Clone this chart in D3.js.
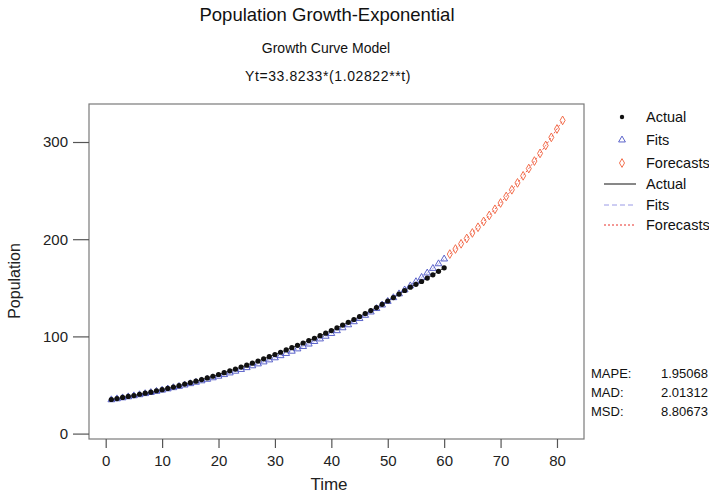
<!DOCTYPE html>
<html>
<head>
<meta charset="utf-8">
<script src="https://cdn.jsdelivr.net/npm/d3@7/dist/d3.min.js"></script>
<style>
  html, body { margin: 0; padding: 0; background: #fff; }
  svg { display: block; font-family: "Liberation Sans", Arial, sans-serif; }
</style>
</head>
<body>
<svg id="chart" width="709" height="493"></svg>
<script>
// Observed population, t = 1..60
const actual = [
  35.1, 36.0, 37.2, 38.2, 39.1, 40.5, 41.6, 42.6, 44.1, 45.2,
  46.5, 47.9, 49.3, 50.9, 52.4, 53.9, 55.6, 57.3, 59.0, 60.8,
  62.7, 64.6, 66.4, 68.4, 70.4, 72.5, 74.6, 76.9, 79.1, 81.4,
  83.7, 86.1, 88.4, 90.8, 93.2, 95.7, 98.1, 100.7, 103.3, 106.0,
  108.8, 111.6, 114.5, 117.4, 120.4, 123.5, 126.6, 129.7, 133.0, 136.4,
  139.9, 143.5, 147.2, 150.6, 153.6, 156.5, 160.0, 163.4, 166.9, 170.5
];
// Fitted values of the growth curve, t = 1..60
const fits = [
  34.78, 35.76, 36.77, 37.81, 38.87, 39.97, 41.10, 42.26, 43.45, 44.68,
  45.94, 47.23, 48.57, 49.94, 51.35, 52.80, 54.28, 55.82, 57.39, 59.01,
  60.68, 62.39, 64.15, 65.96, 67.82, 69.74, 71.70, 73.73, 75.81, 77.95,
  80.15, 82.41, 84.73, 87.12, 89.58, 92.11, 94.71, 97.38, 100.13, 102.96,
  105.86, 108.85, 111.92, 115.08, 118.33, 121.67, 125.10, 128.63, 132.26, 135.99,
  139.83, 143.78, 147.83, 152.01, 156.30, 160.71, 165.24, 169.91, 174.70, 179.63
];
// Forecasts, t = 61..81
const forecasts = [
  184.70, 189.91, 195.27, 200.78, 206.45, 212.27, 218.26, 224.42, 230.76, 237.27,
  243.96, 250.85, 257.93, 265.21, 272.69, 280.39, 288.30, 296.43, 304.80, 313.40,
  322.24
];
const xTicks = [0, 10, 20, 30, 40, 50, 60, 70, 80];
const yTicks = [0, 100, 200, 300];
const accuracy = [
  { name: "MAPE:", value: "1.95068" },
  { name: "MAD:", value: "2.01312" },
  { name: "MSD:", value: "8.80673" }
];

const actualPts = actual.map((v, i) => ({ t: i + 1, v }));
const fitPts = fits.map((v, i) => ({ t: i + 1, v }));
const fcPts = forecasts.map((v, i) => ({ t: i + 61, v }));

const svg = d3.select("#chart");
const frame = { left: 89, right: 584, top: 104, bottom: 439 };

const x = d3.scaleLinear().domain([-2.96, 84.79]).range([frame.left, frame.right]);
const y = d3.scaleLinear().domain([-5.56, 339.1]).range([frame.bottom, frame.top]);

const cActual = "#111111";
const cFits = "#4a52c4";
const cFitsLine = "#9a9ae6";
const cFc = "#f0603a";
const cFcLine = "#e8302a";

// Titles
svg.append("text").attr("x", 327).attr("y", 21).attr("text-anchor", "middle")
  .attr("font-size", 18.5).attr("fill", "#111").text("Population Growth-Exponential");
svg.append("text").attr("x", 326).attr("y", 53).attr("text-anchor", "middle")
  .attr("font-size", 14).attr("fill", "#111").text("Growth Curve Model");
svg.append("text").attr("x", 328).attr("y", 81).attr("text-anchor", "middle")
  .attr("font-size", 14).attr("letter-spacing", 0.6).attr("fill", "#111")
  .text("Yt=33.8233*(1.02822**t)");

// Frame around the data region
svg.append("rect")
  .attr("x", frame.left).attr("y", frame.top)
  .attr("width", frame.right - frame.left).attr("height", frame.bottom - frame.top)
  .attr("fill", "none").attr("stroke", "#7a7a7a").attr("stroke-width", 1.2);

// Axes
const yAxis = svg.append("g").attr("transform", `translate(${frame.left},0)`)
  .call(d3.axisLeft(y).tickValues(yTicks).tickSize(16).tickPadding(5));
const xAxis = svg.append("g").attr("transform", `translate(0,${frame.bottom})`)
  .call(d3.axisBottom(x).tickValues(xTicks).tickSize(9).tickPadding(7));
[yAxis, xAxis].forEach(g => {
  g.select(".domain").remove();
  g.selectAll(".tick line").attr("stroke", "#555").attr("stroke-width", 1.2);
  g.selectAll(".tick text").attr("font-size", 15).attr("fill", "#222")
    .attr("font-family", "Liberation Sans, Arial, sans-serif");
});

svg.append("text").attr("x", 329).attr("y", 490).attr("text-anchor", "middle")
  .attr("font-size", 17).attr("fill", "#222").text("Time");
svg.append("text").attr("transform", "translate(20,281) rotate(-90)")
  .attr("text-anchor", "middle").attr("font-size", 16).attr("fill", "#222").text("Population");

// Connecting lines
const line = d3.line().x(d => x(d.t)).y(d => y(d.v));
svg.append("path").datum(actualPts).attr("d", line)
  .attr("fill", "none").attr("stroke", cActual).attr("stroke-width", 0.8);
svg.append("path").datum(fitPts).attr("d", line)
  .attr("fill", "none").attr("stroke", cFitsLine).attr("stroke-width", 0.8)
  .attr("stroke-dasharray", "4,3");
svg.append("path").datum(fcPts).attr("d", line)
  .attr("fill", "none").attr("stroke", cFcLine).attr("stroke-width", 0.8)
  .attr("stroke-dasharray", "2,2");

// Symbols
const tri = d3.symbol().type(d3.symbolTriangle).size(20);
const dia = d3.symbol().type(d3.symbolDiamond).size(22);

svg.append("g").selectAll("path").data(fitPts).join("path")
  .attr("transform", d => `translate(${x(d.t)},${y(d.v)})`)
  .attr("d", tri).attr("fill", "none").attr("stroke", cFits).attr("stroke-width", 0.9);
svg.append("g").selectAll("circle").data(actualPts).join("circle")
  .attr("cx", d => x(d.t)).attr("cy", d => y(d.v)).attr("r", 2.6)
  .attr("fill", cActual);
svg.append("g").selectAll("path").data(fcPts).join("path")
  .attr("transform", d => `translate(${x(d.t)},${y(d.v)})`)
  .attr("d", dia).attr("fill", "none").attr("stroke", cFc).attr("stroke-width", 0.9);

// Legend
const lg = svg.append("g").attr("font-size", 14.5).attr("fill", "#111");
const symX = 622, txtX = 646;
lg.append("circle").attr("cx", symX).attr("cy", 117).attr("r", 2.2).attr("fill", cActual);
lg.append("text").attr("x", txtX).attr("y", 122).text("Actual");
lg.append("path").attr("transform", `translate(${symX},140)`).attr("d", tri)
  .attr("fill", "none").attr("stroke", cFits).attr("stroke-width", 0.9);
lg.append("text").attr("x", txtX).attr("y", 145).text("Fits");
lg.append("path").attr("transform", `translate(${symX},163)`).attr("d", dia)
  .attr("fill", "none").attr("stroke", cFc).attr("stroke-width", 0.9);
lg.append("text").attr("x", txtX).attr("y", 168).text("Forecasts");

lg.append("line").attr("x1", 604).attr("x2", 636).attr("y1", 184).attr("y2", 184)
  .attr("stroke", cActual).attr("stroke-width", 1);
lg.append("text").attr("x", txtX).attr("y", 189).text("Actual");
lg.append("line").attr("x1", 604).attr("x2", 636).attr("y1", 205).attr("y2", 205)
  .attr("stroke", cFitsLine).attr("stroke-width", 1).attr("stroke-dasharray", "5,3");
lg.append("text").attr("x", txtX).attr("y", 210).text("Fits");
lg.append("line").attr("x1", 604).attr("x2", 636).attr("y1", 225).attr("y2", 225)
  .attr("stroke", cFcLine).attr("stroke-width", 1).attr("stroke-dasharray", "2,2");
lg.append("text").attr("x", txtX).attr("y", 230).text("Forecasts");

// Accuracy measures
const acc = svg.append("g").attr("font-size", 13).attr("fill", "#111");
accuracy.forEach((d, i) => {
  const yy = 378 + i * 19;
  acc.append("text").attr("x", 591).attr("y", yy).text(d.name);
  acc.append("text").attr("x", 708).attr("y", yy).attr("text-anchor", "end").text(d.value);
});
</script>
</body>
</html>
